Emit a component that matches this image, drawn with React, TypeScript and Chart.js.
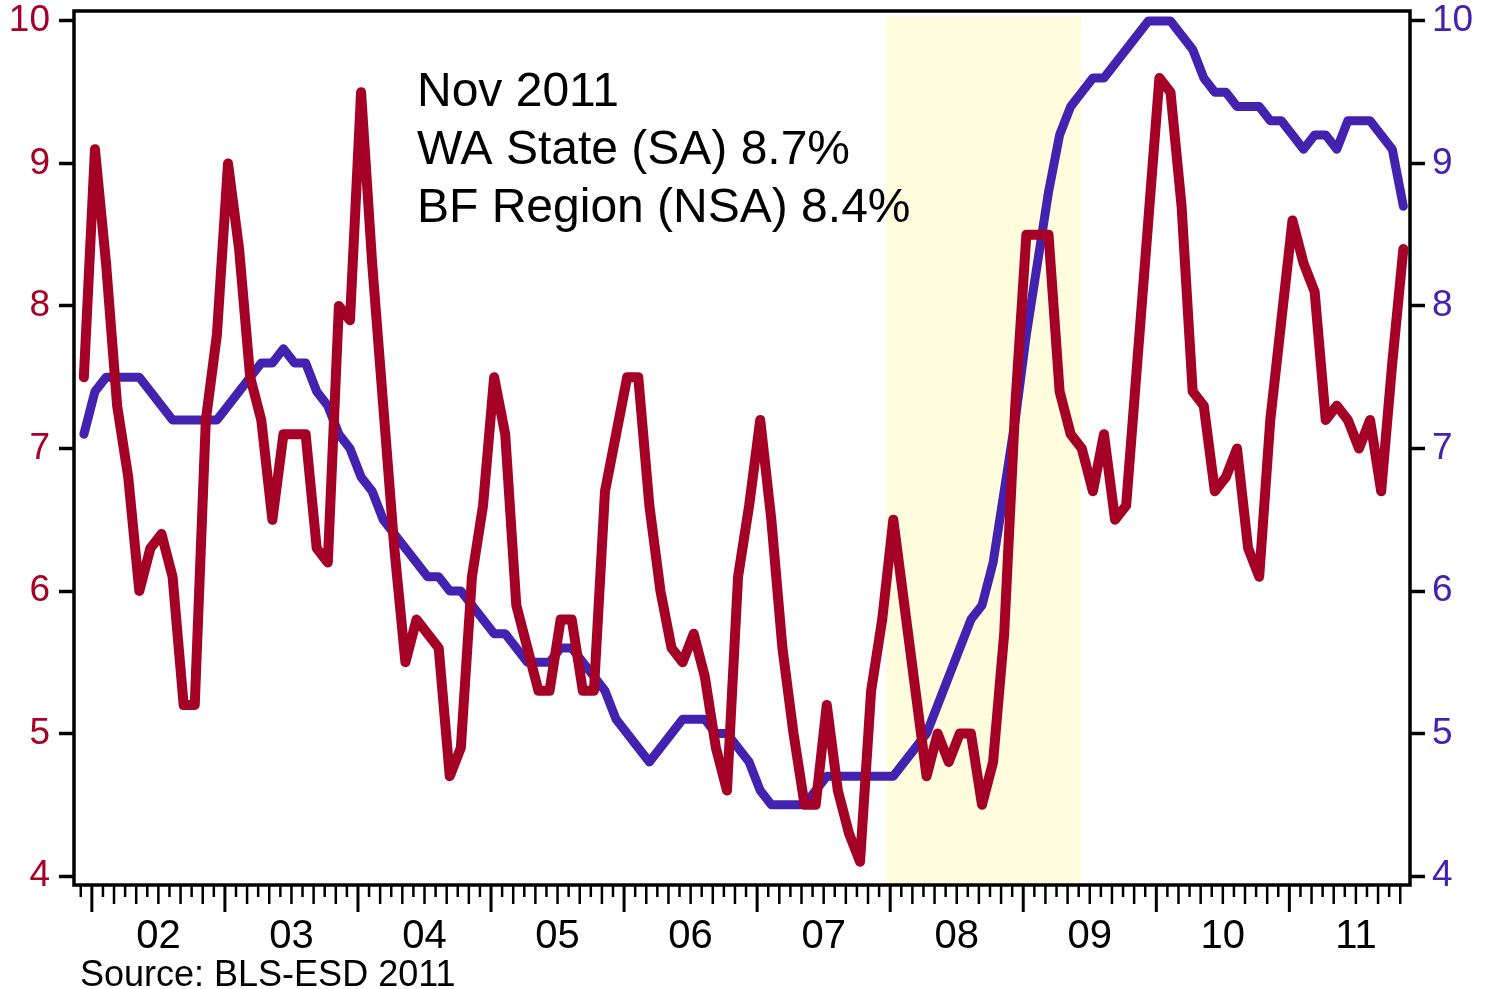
import React, { useEffect, useRef } from "react";
import { Chart, registerables } from "chart.js";

Chart.register(...registerables);

// Month index: Jan 2002 = 0. Both series start in Dec 2001.
const firstMonth = -1;
// monthly values are plotted a little after the start of their month
const pointOffset = 0.28;

// BF Region unemployment rate (NSA), Dec 2001 .. Nov 2011
const bfRegionNSA = [
  7.5,
  9.1, 8.3, 7.3, 6.8, 6.0, 6.3, 6.4, 6.1, 5.2, 5.2, 7.2, 7.8,
  9.0, 8.4, 7.5, 7.2, 6.5, 7.1, 7.1, 7.1, 6.3, 6.2, 8.0, 7.9,
  9.5, 8.3, 7.3, 6.3, 5.5, 5.8, 5.7, 5.6, 4.7, 4.9, 6.1, 6.6,
  7.5, 7.1, 5.9, 5.6, 5.3, 5.3, 5.8, 5.8, 5.3, 5.3, 6.7, 7.1,
  7.5, 7.5, 6.6, 6.0, 5.6, 5.5, 5.7, 5.4, 4.9, 4.6, 6.1, 6.6,
  7.2, 6.5, 5.6, 5.0, 4.5, 4.5, 5.2, 4.6, 4.3, 4.1, 5.3, 5.8,
  6.5, 5.9, 5.3, 4.7, 5.0, 4.8, 5.0, 5.0, 4.5, 4.8, 5.7, 7.3,
  8.5, 8.5, 8.5, 7.4, 7.1, 7.0, 6.7, 7.1, 6.5, 6.6, 7.6, 8.6,
  9.6, 9.5, 8.7, 7.4, 7.3, 6.7, 6.8, 7.0, 6.3, 6.1, 7.2, 7.9,
  8.6, 8.3, 8.1, 7.2, 7.3, 7.2, 7.0, 7.2, 6.7, 7.6, 8.4,
];

// WA State unemployment rate (SA), Dec 2001 .. Nov 2011
const waStateSA = [
  7.1,
  7.4, 7.5, 7.5, 7.5, 7.5, 7.4, 7.3, 7.2, 7.2, 7.2, 7.2, 7.2,
  7.3, 7.4, 7.5, 7.6, 7.6, 7.7, 7.6, 7.6, 7.4, 7.3, 7.1, 7.0,
  6.8, 6.7, 6.5, 6.4, 6.3, 6.2, 6.1, 6.1, 6.0, 6.0, 5.9, 5.8,
  5.7, 5.7, 5.6, 5.5, 5.5, 5.5, 5.6, 5.6, 5.5, 5.4, 5.3, 5.1,
  5.0, 4.9, 4.8, 4.9, 5.0, 5.1, 5.1, 5.1, 5.0, 5.0, 4.9, 4.8,
  4.6, 4.5, 4.5, 4.5, 4.5, 4.6, 4.7, 4.7, 4.7, 4.7, 4.7, 4.7,
  4.7, 4.8, 4.9, 5.0, 5.2, 5.4, 5.6, 5.8, 5.9, 6.2, 6.7, 7.2,
  7.8, 8.3, 8.8, 9.2, 9.4, 9.5, 9.6, 9.6, 9.7, 9.8, 9.9, 10.0,
  10.0, 10.0, 9.9, 9.8, 9.6, 9.5, 9.5, 9.4, 9.4, 9.4, 9.3, 9.3,
  9.2, 9.1, 9.2, 9.2, 9.1, 9.3, 9.3, 9.3, 9.2, 9.1, 8.7,
];

const yearLabels = ["02", "03", "04", "05", "06", "07", "08", "09", "10", "11"];
const yTicks = [4, 5, 6, 7, 8, 9, 10];
const xRange = [-1.61, 118.88];
const yRange = [3.937, 10.07];
const recession = [71.6, 89.2];
const recessionTop = 10.03;
const annotationLines = ["Nov 2011", "WA State (SA) 8.7%", "BF Region (NSA) 8.4%"];
const sourceNote = "Source: BLS-ESD 2011";

const RED = "#A50026";
const BLUE = "#4422B0";
const SHADE = "#FFFDDE";
const FONT = '"Liberation Sans", Arial, Helvetica, sans-serif';

export default function App() {
  const ref = useRef<HTMLCanvasElement>(null);

  useEffect(() => {
    document.body.style.margin = "0";
    const canvas = ref.current;
    if (!canvas) return;

    const decorPlugin = {
      id: "decor",
      beforeDatasetsDraw(chart: any) {
        const { ctx, chartArea, scales } = chart;
        const x0 = scales.x.getPixelForValue(recession[0]);
        const x1 = scales.x.getPixelForValue(recession[1]);
        const yTop = scales.y.getPixelForValue(recessionTop);
        ctx.save();
        ctx.fillStyle = SHADE;
        ctx.fillRect(x0, yTop, x1 - x0, chartArea.bottom - yTop);
        ctx.restore();
      },
      afterDraw(chart: any) {
        const { ctx, chartArea, scales } = chart;
        ctx.save();
        ctx.strokeStyle = "#000";
        ctx.lineWidth = 3.5;
        ctx.strokeRect(
          chartArea.left,
          chartArea.top,
          chartArea.right - chartArea.left,
          chartArea.bottom - chartArea.top
        );
        const xs = scales.x;
        for (let m = Math.ceil(xs.min); m <= Math.floor(xs.max); m++) {
          const px = xs.getPixelForValue(m);
          const major = m % 12 === 0;
          const len = major ? 27 : m % 2 === 0 ? 19 : 12;
          ctx.lineWidth = major ? 3 : 2.5;
          ctx.beginPath();
          ctx.moveTo(px, chartArea.bottom);
          ctx.lineTo(px, chartArea.bottom + len);
          ctx.stroke();
        }
        ctx.fillStyle = "#000";
        ctx.textAlign = "left";
        ctx.textBaseline = "alphabetic";
        ctx.font = `48px ${FONT}`;
        annotationLines.forEach((t, i) => ctx.fillText(t, 417, 106 + i * 58));
        ctx.font = `36px ${FONT}`;
        ctx.fillText(sourceNote, 80, 986);
        ctx.restore();
      },
    };

    const toPoints = (arr: number[]) =>
      arr.map((v, i) => ({ x: firstMonth + i + pointOffset, y: v }));

    const yScale = (pos: "left" | "right", color: string, width: number, pad: number) => ({
      type: "linear",
      position: pos,
      min: yRange[0],
      max: yRange[1],
      afterBuildTicks: (s: any) => {
        s.ticks = yTicks.map((v) => ({ value: v }));
      },
      afterFit: (s: any) => {
        s.width = width;
        s.paddingTop = 0;
        s.paddingBottom = 0;
      },
      grid: {
        display: true,
        drawOnChartArea: false,
        drawTicks: true,
        tickLength: 15,
        tickWidth: 3.5,
        tickColor: "#000",
      },
      border: { display: false },
      ticks: { padding: pad, color, font: { family: FONT, size: 37 } },
    });

    const chart = new Chart(canvas, {
      type: "line",
      data: {
        datasets: [
          {
            label: "BF Region (NSA)",
            data: toPoints(bfRegionNSA),
            yAxisID: "y",
            borderColor: RED,
            backgroundColor: RED,
            borderWidth: 10,
            pointRadius: 0,
            tension: 0,
            borderJoinStyle: "round",
            borderCapStyle: "round",
            fill: false,
          },
          {
            label: "WA State (SA)",
            data: toPoints(waStateSA),
            yAxisID: "y2",
            borderColor: BLUE,
            backgroundColor: BLUE,
            borderWidth: 9,
            pointRadius: 0,
            tension: 0,
            borderJoinStyle: "round",
            borderCapStyle: "round",
            fill: false,
          },
        ],
      },
      options: {
        responsive: false,
        animation: false,
        layout: { padding: { top: 11, left: 0, right: 0, bottom: 0 } },
        plugins: { legend: { display: false }, tooltip: { enabled: false } },
        scales: {
          x: {
            type: "linear",
            position: "bottom",
            min: xRange[0],
            max: xRange[1],
            afterBuildTicks: (s: any) => {
              s.ticks = yearLabels.map((_, i) => ({ value: 12 * i + 6 }));
            },
            afterFit: (s: any) => {
              s.height = 104;
              s.paddingLeft = 0;
              s.paddingRight = 0;
            },
            grid: { display: false, drawTicks: false },
            border: { display: false },
            ticks: {
              autoSkip: false,
              maxRotation: 0,
              minRotation: 0,
              padding: 28,
              color: "#000",
              font: { family: FONT, size: 40 },
              callback: (_v: any, i: number) => yearLabels[i],
            },
          },
          y: yScale("left", RED, 74, 9),
          y2: yScale("right", BLUE, 88, 7),
        },
      } as any,
      plugins: [decorPlugin],
    });

    return () => chart.destroy();
  }, []);

  return (
    <div style={{ position: "fixed", left: 0, top: 0, width: 1498, height: 989, background: "#fff" }}>
      <canvas ref={ref} width={1498} height={989} style={{ display: "block" }} />
    </div>
  );
}
